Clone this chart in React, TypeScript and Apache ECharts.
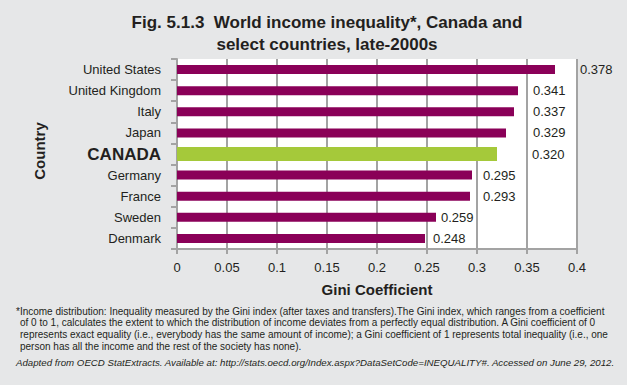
import React, { useEffect, useRef } from "react";
import * as echarts from "echarts";

const countries = ["United States", "United Kingdom", "Italy", "Japan", "CANADA", "Germany", "France", "Sweden", "Denmark"];
const gini = [0.378, 0.341, 0.337, 0.329, 0.32, 0.295, 0.293, 0.259, 0.248];
const highlight = "CANADA";
const labelGaps = [25, 15, 19, 27, 35, 11, 13, 5, 8];
const xMin = 0;
const xMax = 0.4;
const xInterval = 0.05;

const titleText = "Fig. 5.1.3  World income inequality*, Canada and\nselect countries, late-2000s";
const footnoteLines = [
  "*Income distribution: Inequality measured by the Gini index (after taxes and transfers).The Gini index, which ranges from a coefficient",
  "of 0 to 1, calculates the extent to which the distribution of income deviates from a perfectly equal distribution. A Gini coefficient of 0",
  "represents exact equality (i.e., everybody has the same amount of income); a Gini coefficient of 1 represents total inequality (i.e., one",
  "person has all the income and the rest of the society has none).",
];
const sourceText =
  "Adapted from OECD StatExtracts. Available at: http://stats.oecd.org/Index.aspx?DataSetCode=INEQUALITY#. Accessed on June 29, 2012.";

const FONT = "'Liberation Sans', Arial, Helvetica, sans-serif";
const TEXT = "#231f20";
const GRIDC = "#a3a3a3";
const PURPLE = "#8a0058";
const GREEN = "#a5c93a";

export default function App() {
  const ref = useRef<HTMLDivElement>(null);
  useEffect(() => {
    if (!ref.current) return;
    const chart = echarts.init(ref.current, null, { renderer: "svg" });
    const labelFor = (i: number) => ({
      show: true,
      position: "right",
      distance: 0,
      offset: [labelGaps[i], 0],
      color: TEXT,
      fontSize: 13,
      fontFamily: FONT,
      formatter: (p: any) => Number(p.value).toFixed(3),
    });
    const purpleData = countries.map((c, i) =>
      c === highlight ? "-" : { value: gini[i], label: labelFor(i) }
    );
    const greenData = countries.map((c, i) =>
      c === highlight ? { value: gini[i], label: labelFor(i) } : "-"
    );
    const footGraphics: any[] = footnoteLines.map((t, i) => ({
      type: "text",
      left: i === 0 ? 16 : 20,
      top: 306 + i * 11.7,
      style: { text: t, fontSize: 10, fontFamily: FONT, fill: TEXT },
    }));
    footGraphics.push({
      type: "text",
      left: 16,
      top: 357,
      style: { text: sourceText, fontSize: 9.7, fontStyle: "italic", fontFamily: FONT, fill: TEXT },
    });
    chart.setOption({
      animation: false,
      backgroundColor: "#e6e7e8",
      textStyle: { fontFamily: FONT },
      title: {
        text: titleText,
        left: 327,
        top: 11,
        padding: 0,
        textAlign: "center",
        textStyle: { fontSize: 17, fontWeight: "bold", color: TEXT, lineHeight: 22, fontFamily: FONT },
      },
      grid: {
        left: 177,
        top: 59,
        width: 400,
        height: 190,
        show: true,
        backgroundColor: "#ffffff",
        borderWidth: 0,
      },
      xAxis: {
        type: "value",
        min: xMin,
        max: xMax,
        interval: xInterval,
        name: "Gini Coefficient",
        nameLocation: "middle",
        nameGap: 33,
        nameTextStyle: { fontSize: 15, fontWeight: "bold", color: TEXT, fontFamily: FONT },
        axisLine: { show: true, lineStyle: { color: GRIDC, width: 2 } },
        axisTick: { show: true, length: 5, lineStyle: { color: GRIDC, width: 2 } },
        splitLine: { show: true, lineStyle: { color: GRIDC, width: 2 } },
        axisLabel: { fontSize: 13, color: TEXT, margin: 12, fontFamily: FONT },
      },
      yAxis: [
        {
          type: "category",
          data: countries,
          inverse: true,
          name: "Country",
          nameLocation: "middle",
          nameGap: 130,
          nameRotate: 90,
          nameTextStyle: { fontSize: 15, fontWeight: "bold", color: TEXT, fontFamily: FONT, padding: [0, 0, 0, 6] },
          axisLine: { show: true, lineStyle: { color: GRIDC, width: 2 } },
          axisTick: { show: true, length: 6, lineStyle: { color: GRIDC, width: 2 } },
          axisLabel: {
            fontSize: 13,
            color: TEXT,
            margin: 16,
            fontFamily: FONT,
            formatter: (v: string) => (v === highlight ? "{b|" + v + "}" : v),
            rich: { b: { fontSize: 17, fontWeight: "bold", color: TEXT, fontFamily: FONT } },
          },
        },
        {
          type: "category",
          data: countries,
          inverse: true,
          show: false,
        },
      ],
      series: [
        {
          type: "bar",
          yAxisIndex: 0,
          data: purpleData,
          barWidth: 9,
          itemStyle: { color: PURPLE },
        },
        {
          type: "bar",
          yAxisIndex: 1,
          data: greenData,
          barWidth: 14,
          itemStyle: { color: GREEN },
        },
      ],
      graphic: footGraphics,
    });
    return () => chart.dispose();
  }, []);
  return <div ref={ref} style={{ position: "fixed", left: 0, top: 0, width: 627, height: 385 }} />;
}
